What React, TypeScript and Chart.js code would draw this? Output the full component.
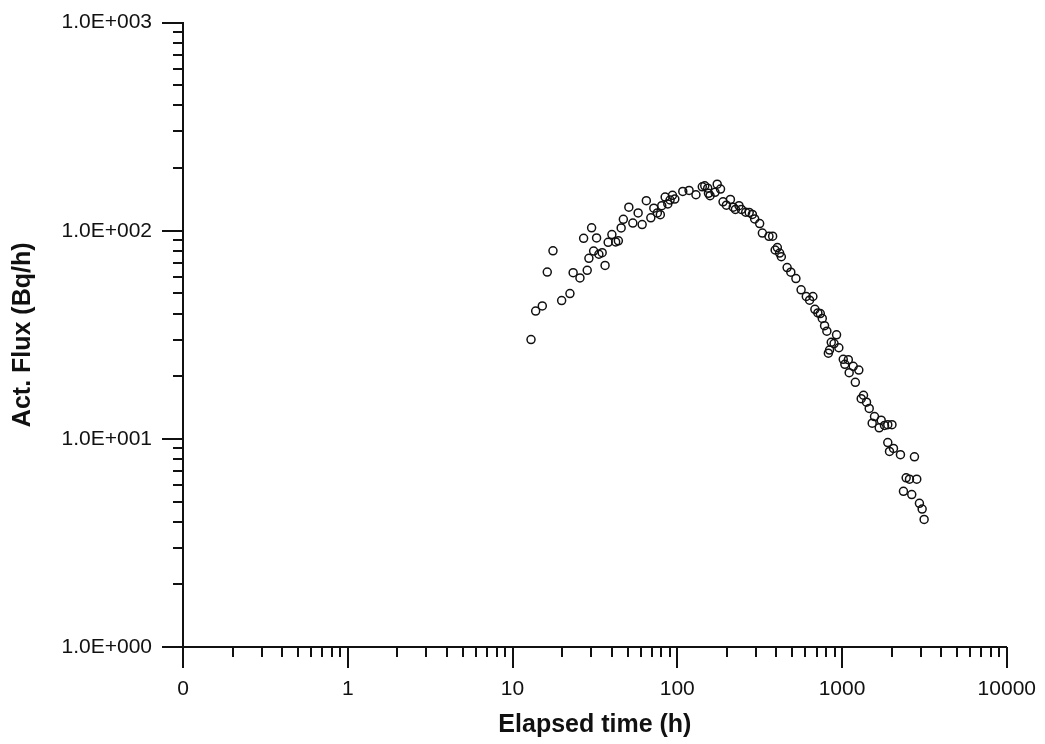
import React, { useEffect, useRef } from "react";
import { Chart, registerables } from "chart.js";

Chart.register(...registerables);

// Elapsed time (h) of each measurement
const elapsedHours = [
  12.95, 13.82, 15.16, 16.25, 17.6, 19.87, 22.31, 23.33, 25.66, 27.01,
  28.4, 29.08, 30.2, 31.06, 32.37, 33.43, 35.0, 36.45, 38.06, 40.09,
  42.27, 43.89, 45.64, 47.06, 50.82, 53.73, 57.87, 61.2, 64.88, 69.09,
  72.05, 75.67, 78.9, 80.5, 84.4, 87.6, 90.4, 93.5, 96.6, 108.0,
  117.9, 129.8, 141.8, 146.8, 153.0, 154.6, 158.1, 169.4, 174.7, 183.0,
  189.6, 198.7, 210.1, 218.5, 225.3, 236.9, 245.0, 260.2, 273.2, 285.6,
  294.9, 316.2, 328.4, 360.0, 379.1, 392.6, 404.9, 418.0, 428.1, 464.2,
  488.8, 524.8, 564.2, 606.7, 635.3, 665.3, 684.2, 713.4, 737.8, 758.6,
  783.3, 808.8, 926.1, 860.0, 894.3, 956.3, 840.0, 826.0, 1017, 1092,
  1040, 1169, 1105, 1264, 1204, 1350, 1307, 1408, 1462, 1574,
  1524, 1728, 1681, 1810, 1895, 2009, 1895, 2052, 1941, 2262,
  2751, 2450, 2566, 2841, 2359, 2649, 2949, 3063, 3149,
];

// Activity flux (Bq/h)
const actFlux = [
  30.0, 41.1, 43.5, 63.3, 80.1, 46.2, 49.9, 62.9, 59.3, 91.9,
  64.5, 73.7, 103.3, 79.9, 92.3, 77.1, 78.4, 68.1, 88.0, 95.9,
  88.4, 89.4, 103.1, 113.4, 129.7, 108.9, 121.8, 107.0, 139.4, 115.3,
  128.4, 121.8, 119.5, 131.9, 145.2, 134.5, 140.5, 147.9, 142.0, 154.5,
  156.2, 148.9, 162.5, 164.3, 160.2, 151.2, 147.3, 153.0, 167.4, 158.5,
  137.7, 132.6, 141.3, 129.7, 126.6, 131.9, 126.6, 122.7, 122.5, 119.8,
  114.0, 108.3, 97.5, 94.0, 94.2, 80.8, 83.0, 78.1, 75.0, 66.5,
  63.2, 58.9, 52.0, 48.3, 46.4, 48.3, 41.9, 40.3, 40.0, 37.9,
  35.0, 32.9, 31.6, 29.1, 28.7, 27.4, 26.7, 25.8, 24.1, 24.0,
  22.8, 22.3, 20.8, 21.4, 18.7, 16.2, 15.6, 15.0, 14.0, 12.8,
  11.9, 12.3, 11.3, 11.6, 11.7, 11.7, 9.6, 9.0, 8.7, 8.4,
  8.2, 6.5, 6.4, 6.4, 5.6, 5.4, 4.9, 4.6, 4.1,
];

const xMajorTicks = [0.1, 1, 10, 100, 1000, 10000];
const xMajorLabels = ["0", "1", "10", "100", "1000", "10000"];
const yMajorTicks = [1, 10, 100, 1000];
const yMajorLabels = ["1.0E+000", "1.0E+001", "1.0E+002", "1.0E+003"];
const minorMultipliers = [2, 3, 4, 5, 6, 7, 8, 9];

const xTitle = "Elapsed time (h)";
const yTitle = "Act. Flux (Bq/h)";

function withMinors(majors: number[]): number[] {
  const out: number[] = [];
  majors.forEach((m, i) => {
    out.push(m);
    if (i < majors.length - 1) minorMultipliers.forEach((k) => out.push(m * k));
  });
  return out;
}

function majorIndex(majors: number[], v: number): number {
  return majors.findIndex((m) => Math.abs(m - v) / m < 1e-9);
}

const INK = "#111111";
const FONT = "'Liberation Sans', Arial, Helvetica, sans-serif";
const MAJOR_LEN = 21;
const MINOR_LEN = 10;

const tickMarksPlugin = {
  id: "tickMarks",
  afterDraw(chart: any) {
    const ctx = chart.ctx;
    const xs = chart.scales.x;
    const ys = chart.scales.y;
    ctx.save();
    ctx.strokeStyle = INK;
    ctx.lineWidth = 2;
    ctx.beginPath();
    xs.ticks.forEach((t: any) => {
      const px = Math.round(xs.getPixelForValue(t.value));
      const len = majorIndex(xMajorTicks, t.value) >= 0 ? MAJOR_LEN : MINOR_LEN;
      ctx.moveTo(px, xs.top);
      ctx.lineTo(px, xs.top + len);
    });
    ys.ticks.forEach((t: any) => {
      const py = Math.round(ys.getPixelForValue(t.value));
      const len = majorIndex(yMajorTicks, t.value) >= 0 ? MAJOR_LEN : MINOR_LEN;
      ctx.moveTo(ys.right, py);
      ctx.lineTo(ys.right - len, py);
    });
    ctx.stroke();
    ctx.restore();
  },
};

export default function App() {
  const canvasRef = useRef<HTMLCanvasElement | null>(null);

  useEffect(() => {
    if (!canvasRef.current) return;
    const points = elapsedHours.map((x, i) => ({ x, y: actFlux[i] }));
    const chart = new Chart(canvasRef.current, {
      type: "scatter",
      data: {
        datasets: [
          {
            data: points,
            pointStyle: "circle",
            pointRadius: 4,
            pointHoverRadius: 4,
            borderWidth: 1.5,
            borderColor: INK,
            backgroundColor: "rgba(0,0,0,0)",
          },
        ],
      },
      plugins: [tickMarksPlugin],
      options: {
        animation: false,
        responsive: true,
        maintainAspectRatio: false,
        devicePixelRatio: 1,
        layout: { padding: { left: 0, top: 17, right: 37, bottom: 0 } },
        plugins: {
          legend: { display: false },
          tooltip: { enabled: false },
          title: { display: false },
        },
        scales: {
          x: {
            type: "logarithmic",
            position: "bottom",
            min: xMajorTicks[0],
            max: xMajorTicks[xMajorTicks.length - 1],
            afterBuildTicks: (scale: any) => {
              scale.ticks = withMinors(xMajorTicks).map((v) => ({ value: v }));
            },
            afterFit: (scale: any) => {
              scale.height = 97;
            },
            grid: {
              display: true,
              drawOnChartArea: false,
              drawTicks: true,
              tickLength: MAJOR_LEN,
              tickColor: "rgba(0,0,0,0)",
            },
            border: { display: true, color: INK, width: 2 },
            ticks: {
              autoSkip: false,
              maxRotation: 0,
              minRotation: 0,
              padding: 9,
              color: INK,
              font: { family: FONT, size: 21 },
              callback: (value: any) => {
                const i = majorIndex(xMajorTicks, Number(value));
                return i >= 0 ? xMajorLabels[i] : "";
              },
            },
            title: {
              display: true,
              text: xTitle,
              color: INK,
              padding: { top: 0, bottom: 4 },
              font: { family: FONT, size: 25, weight: "bold" },
            },
          },
          y: {
            type: "logarithmic",
            position: "left",
            min: yMajorTicks[0],
            max: yMajorTicks[yMajorTicks.length - 1],
            afterBuildTicks: (scale: any) => {
              scale.ticks = withMinors(yMajorTicks).map((v) => ({ value: v }));
            },
            afterFit: (scale: any) => {
              scale.width = 183;
            },
            grid: {
              display: true,
              drawOnChartArea: false,
              drawTicks: true,
              tickLength: MAJOR_LEN,
              tickColor: "rgba(0,0,0,0)",
            },
            border: { display: true, color: INK, width: 2 },
            ticks: {
              autoSkip: false,
              padding: 10,
              color: INK,
              font: { family: FONT, size: 21 },
              callback: (value: any) => {
                const i = majorIndex(yMajorTicks, Number(value));
                return i >= 0 ? yMajorLabels[i] : "";
              },
            },
            title: {
              display: true,
              text: yTitle,
              color: INK,
              padding: { top: 8, bottom: 0 },
              font: { family: FONT, size: 25, weight: "bold" },
            },
          },
        },
      },
    });
    return () => chart.destroy();
  }, []);

  return (
    <div style={{ position: "fixed", left: 0, top: 0, width: 1045, height: 744, background: "#fff" }}>
      <canvas ref={canvasRef} />
    </div>
  );
}
